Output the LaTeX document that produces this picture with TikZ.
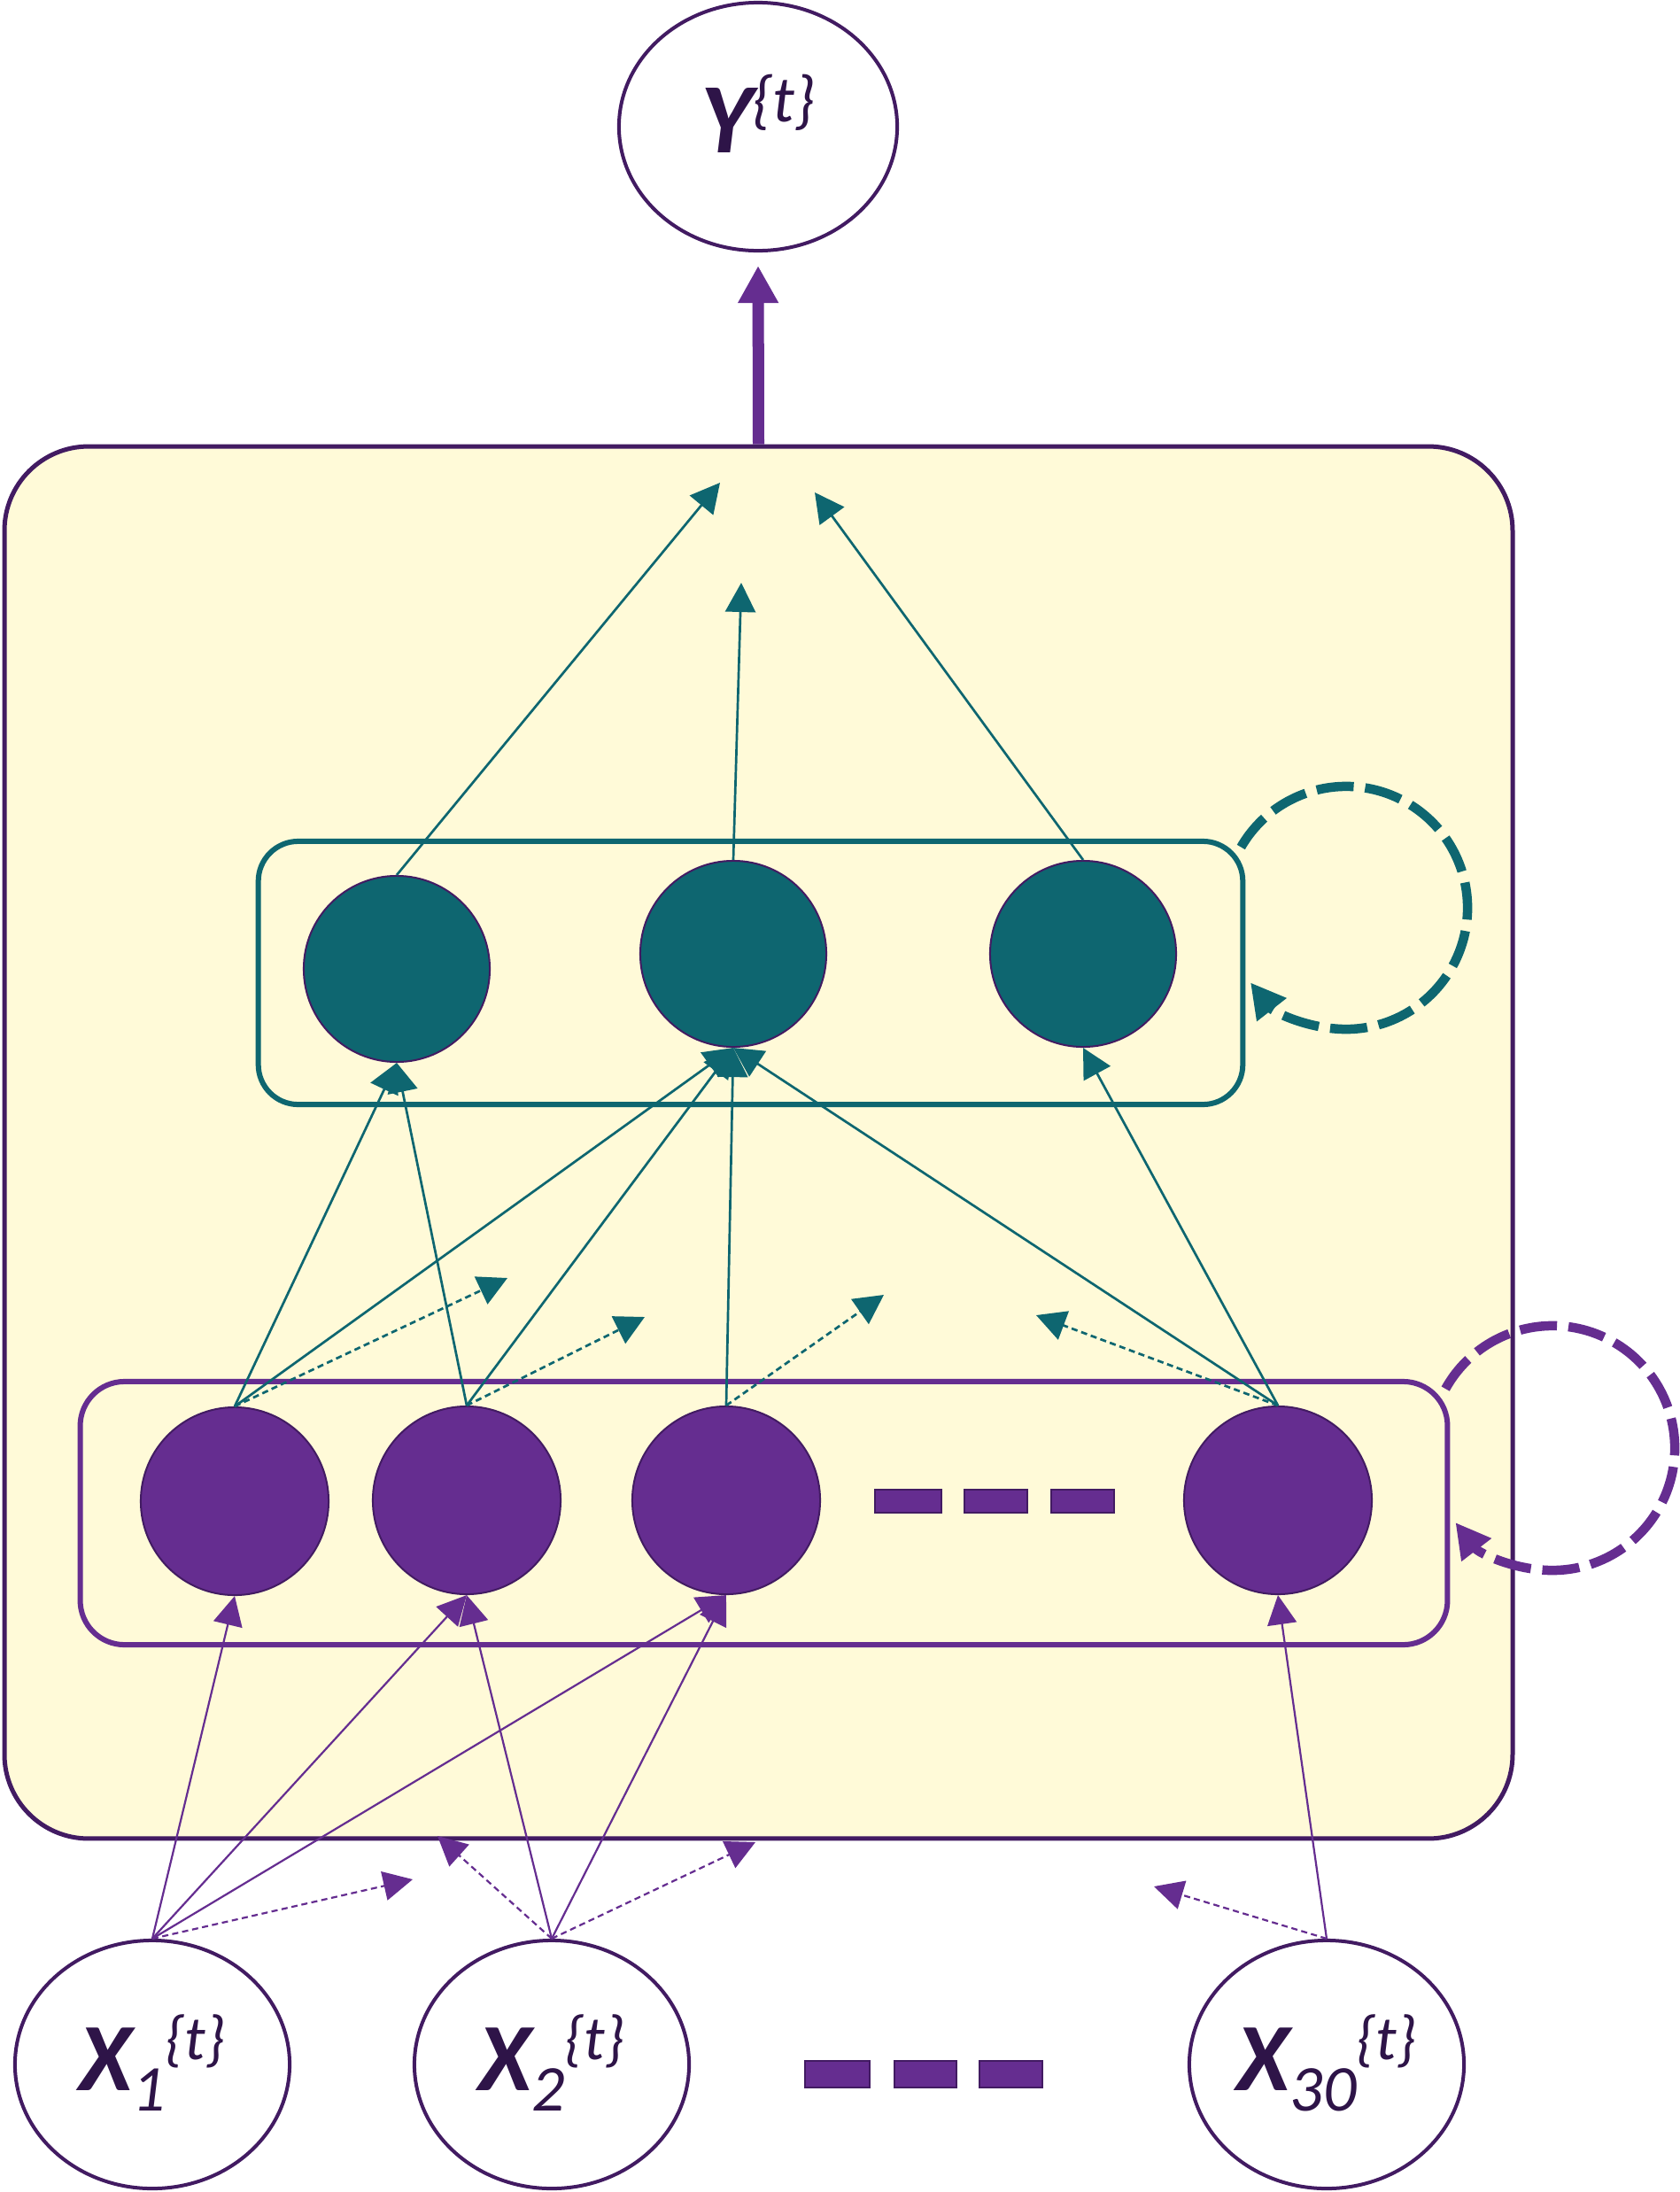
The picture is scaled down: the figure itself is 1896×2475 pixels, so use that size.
\documentclass[tikz,border=0pt]{standalone}
\usepackage{fontspec}
\setmainfont{Carlito}
\usetikzlibrary{arrows.meta,shapes.geometric}
\definecolor{tealc}{RGB}{14,102,112}
\definecolor{purp}{RGB}{101,45,144}
\definecolor{dpurp}{RGB}{66,27,98}
\definecolor{ybg}{RGB}{255,250,216}
\definecolor{txt}{RGB}{46,20,72}
\newcommand{\ylab}{\raisebox{-8.3pt}[0pt][0pt]{\fontsize{32}{32}\selectfont\bfseries\itshape Y\raisebox{10pt}{\fontsize{21}{21}\selectfont\mdseries\{t\}}}}
\newcommand{\xlab}[1]{\raisebox{-8.3pt}[0pt][0pt]{\fontsize{31}{31}\selectfont\bfseries\itshape X\raisebox{-6.5pt}{\fontsize{21}{21}\selectfont\mdseries #1}\raisebox{10pt}{\fontsize{20}{20}\selectfont\mdseries\{t\}}}}
\tikzset{
  io/.style={ellipse, draw=dpurp, line width=0.04cm, fill=white, inner sep=0, text=txt, minimum width=3.10cm, minimum height=2.80cm},
  tn/.style={circle, fill=tealc, draw=dpurp, line width=0.02cm, minimum size=2.10cm, inner sep=0},
  pn/.style={circle, fill=purp, draw=dpurp, line width=0.02cm, minimum size=2.12cm, inner sep=0},
  tarr/.style={draw=tealc, line width=0.027cm, -{Triangle[length=0.33cm,width=0.34cm]}},
  parr/.style={draw=purp, line width=0.022cm, -{Triangle[length=0.33cm,width=0.33cm]}},
  dsh/.style={dash pattern=on 0.07cm off 0.045cm},
  bar/.style={fill=purp, draw=dpurp, line width=0.02cm},
  loopline/.style={line width=0.105cm, dash pattern=on 0.42cm off 0.13cm, -{Triangle[length=0.39cm,width=0.40cm]}}
}
\begin{document}
\begin{tikzpicture}[x=0.01cm,y=-0.01cm]
\useasboundingbox (0,0) rectangle (1896,2475);
\fill[white] (0,0) rectangle (1896,2475);
% outer box
\node[draw=dpurp, fill=ybg, line width=0.05cm, rounded corners=0.95cm, minimum width=17.02cm, minimum height=15.71cm, inner sep=0] (outer) at (856.5,1290) {};
% inner boxes
\node[draw=tealc, line width=0.06cm, rounded corners=0.45cm, minimum width=11.11cm, minimum height=2.97cm, inner sep=0] (tbox) at (847.5,1098.5) {};
\node[draw=purp, line width=0.06cm, rounded corners=0.5cm, minimum width=15.43cm, minimum height=2.97cm, inner sep=0] (pbox) at (862.5,1708.5) {};
% loops
\coordinate (tc) at (1520,1025);
\coordinate (pc) at (1753,1635);
\draw[tealc, loopline] (tc) ++(150:1.37cm) arc[start angle=150, end angle=-142, radius=1.37cm];
\draw[purp, loopline] (pc) ++(151:1.38cm) arc[start angle=151, end angle=-142.5, radius=1.38cm];
% teal nodes
\node[tn] (t1) at (448,1094) {};
\node[tn] (t2) at (828,1077) {};
\node[tn] (t3) at (1223,1077) {};
% purple nodes
\node[pn] (p1) at (265,1695) {};
\node[pn] (p2) at (527,1694) {};
\node[pn] (p3) at (820,1694) {};
\node[pn] (p4) at (1443,1694) {};
\draw[bar] (988,1682) rectangle (1063,1708);
\draw[bar] (1089,1682) rectangle (1160,1708);
\draw[bar] (1187,1682) rectangle (1258,1708);
% output node
\node[io, minimum width=3.14cm] (Y) at (856,143) {\ylab};
\draw[purp, line width=0.13cm, -{Triangle[length=0.42cm,width=0.43cm]}, shorten >=0.15cm] (outer.north) -- (Y.south);
% input nodes
\node[io] (x1) at (172,2331) {\xlab{1}};
\node[io] (x2) at (623,2331) {\xlab{2}};
\node[io] (x30) at (1498,2331) {\xlab{30}};
\draw[bar] (909,2327) rectangle (982,2357);
\draw[bar] (1010,2327) rectangle (1080,2357);
\draw[bar] (1106,2327) rectangle (1177,2357);
% free ends
\coordinate (o1) at (813,545);
\coordinate (o2) at (837,658);
\coordinate (o3) at (920,556);
\coordinate (d1) at (573,1443);
\coordinate (d2) at (728,1487);
\coordinate (d3) at (998,1462);
\coordinate (d4) at (1170,1485);
\coordinate (e1) at (466,2122);
\coordinate (e2) at (494,2073);
\coordinate (e3) at (853,2080);
\coordinate (e4) at (1303,2130);
% teal arrows
\draw[tarr] (t1.north) -- (o1);
\draw[tarr] (t2.north) -- (o2);
\draw[tarr] (t3.north) -- (o3);
\draw[tarr] (p1.north) -- (t1.south);
\draw[tarr] (p2.north) -- (t1.south);
\draw[tarr] (p1.north) -- (t2.south);
\draw[tarr] (p2.north) -- (t2.south);
\draw[tarr] (p3.north) -- (t2.south);
\draw[tarr] (p4.north) -- (t2.south);
\draw[tarr] (p4.north) -- (t3.south);
\draw[tarr, dsh] (p1.north) -- (d1);
\draw[tarr, dsh] (p2.north) -- (d2);
\draw[tarr, dsh] (p3.north) -- (d3);
\draw[tarr, dsh] (p4.north) -- (d4);
% purple arrows
\draw[parr] (x1.north) -- (p1.south);
\draw[parr] (x1.north) -- (p2.south);
\draw[parr] (x1.north) -- (p3.south);
\draw[parr] (x2.north) -- (p2.south);
\draw[parr] (x2.north) -- (p3.south);
\draw[parr] (x30.north) -- (p4.south);
\draw[parr, dsh] (x1.north) -- (e1);
\draw[parr, dsh] (x2.north) -- (e2);
\draw[parr, dsh] (x2.north) -- (e3);
\draw[parr, dsh] (x30.north) -- (e4);
\end{tikzpicture}
\end{document}
